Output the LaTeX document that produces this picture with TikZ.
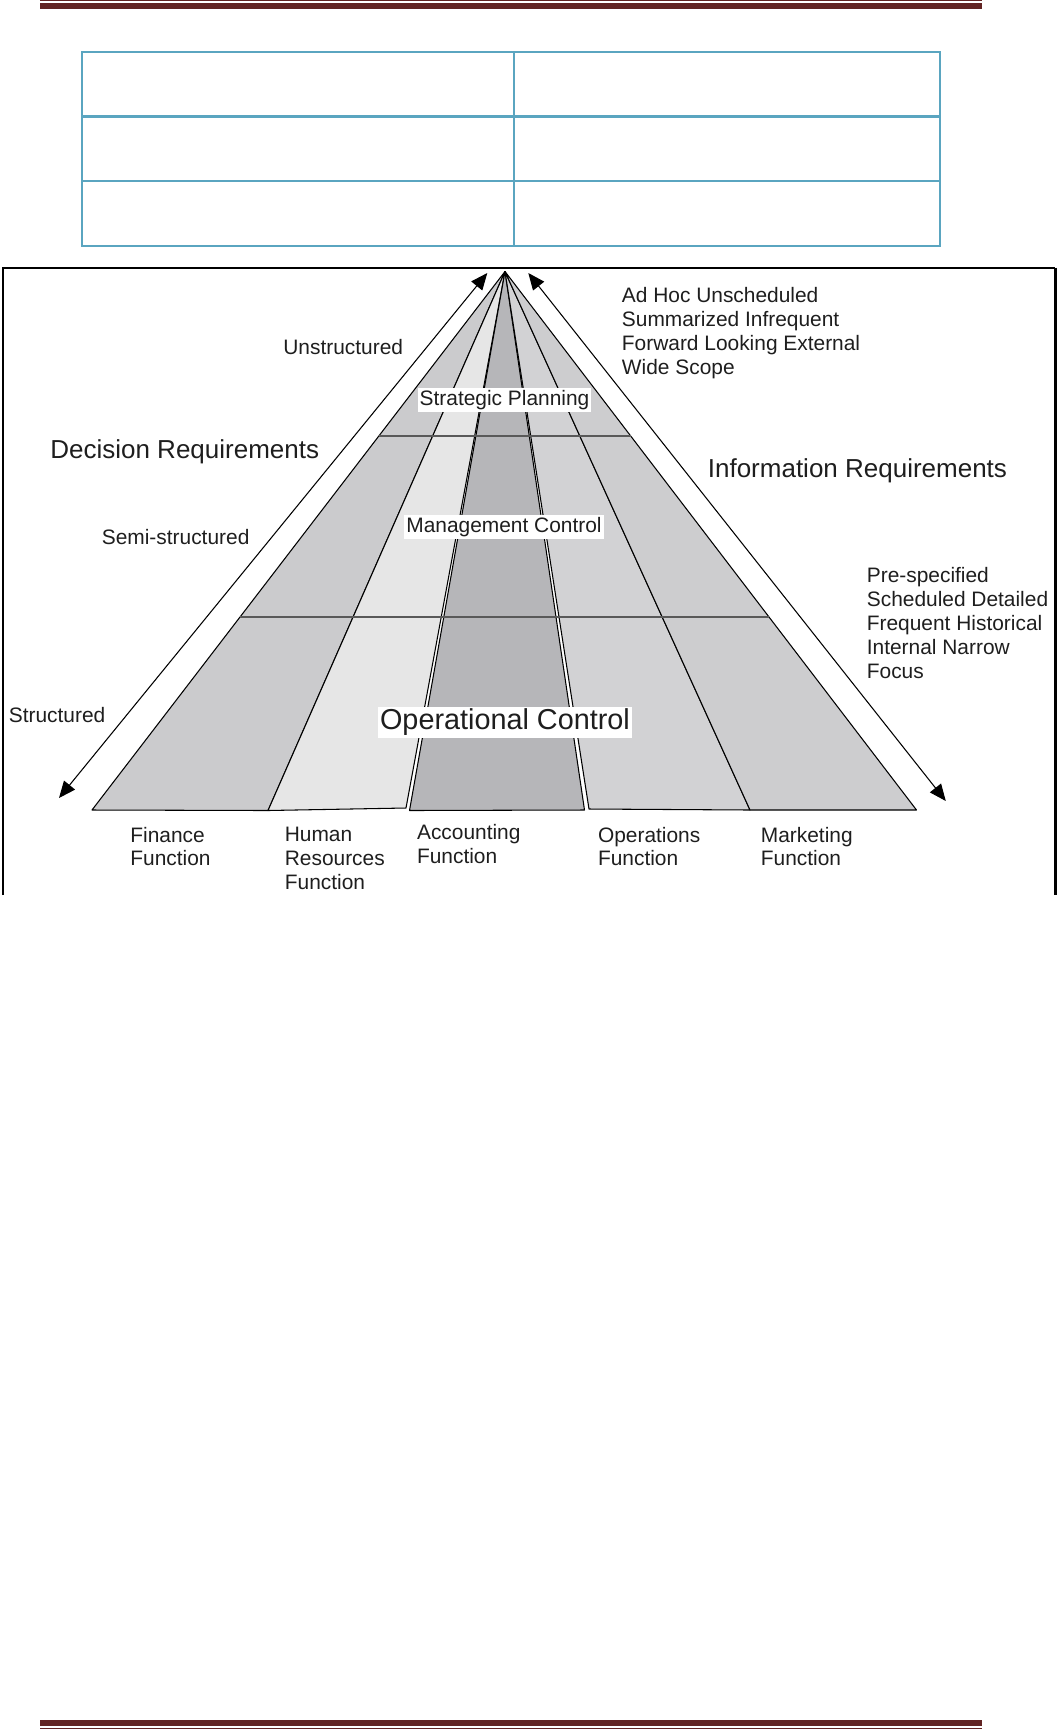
\documentclass[tikz,border=0pt]{standalone}
\usepackage{fontspec}
\setmainfont{Liberation Sans}
\usepackage{tikz}
\usepackage{xcolor}
\usetikzlibrary{calc,arrows.meta}
\definecolor{header-red}{HTML}{622423}
\definecolor{table-blue}{HTML}{5AA5C0}
\definecolor{label-ink}{HTML}{1E1E1E}
\definecolor{fin-grey}{HTML}{CBCBCD}
\definecolor{hr-grey}{HTML}{E6E6E6}
\definecolor{acc-grey}{HTML}{B6B6B9}
\definecolor{ops-grey}{HTML}{D2D2D4}
\definecolor{mkt-grey}{HTML}{CDCDCF}
\tikzset{
    column/.style = {draw=black, line width=0.6pt, line join=round},
    tier-line/.style = {draw=black!65, line width=0.8pt},
    req-arrow/.style = {draw=black, line width=0.6pt, {Triangle[length=9.5pt,width=8pt]}-{Triangle[length=9.5pt,width=8pt]}},
    small-label/.style = {text=label-ink, font=\fontsize{11.9}{13.6}\selectfont, inner sep=0pt, align=left},
    req-label/.style = {text=label-ink, font=\fontsize{14.8}{17}\selectfont, inner sep=0pt},
    tier-label/.style = {text=label-ink, fill=white, inner sep=1.2pt, font=\fontsize{11.9}{13.6}\selectfont},
    big-tier-label/.style = {tier-label, font=\fontsize{16.4}{19}\selectfont},
}

\begin{document}
\begin{tikzpicture}[x=0.02cm, y=-0.02cm]
\useasboundingbox (0,0) rectangle (1058,1729);
\fill[header-red] (40,3.3) rectangle (982,8.7);
\draw[header-red, line width=0.6pt] (40,0.6) -- (982,0.6);
\fill[header-red] (40,1720) rectangle (982,1725.7);
\draw[header-red, line width=0.6pt] (40,1728.4) -- (982,1728.4);

\draw[table-blue, line width=1.3pt] (82,52) rectangle (940,246);
\draw[table-blue, line width=1.3pt] (82,116.5) -- (940,116.5) (82,181) -- (940,181) (514,52) -- (514,246);

\draw[line width=1.2pt] (2.8,895) -- (2.8,267.7) -- (1055,267.7);
\draw[line width=1.7pt] (1055,267.7) -- (1055,895);

\coordinate (apex) at (505,271.5);
\coordinate (base-left) at (92,810);
\coordinate (base-right) at (916.5,810);
\coordinate (fin-hr) at (268,810.5);
\coordinate (hr-acc) at (406,808);
\coordinate (acc-hr) at (409.5,810.5);
\coordinate (acc-ops) at (584.5,810);
\coordinate (ops-acc) at (589,809);
\coordinate (ops-mkt) at (750,810);

\filldraw[column, fill=fin-grey] (apex) -- (base-left) -- (fin-hr) -- cycle;
\filldraw[column, fill=hr-grey] (apex) -- (fin-hr) -- (hr-acc) -- cycle;
\filldraw[column, fill=acc-grey] (apex) -- (acc-hr) -- (acc-ops) -- cycle;
\filldraw[column, fill=ops-grey] (apex) -- (ops-acc) -- (ops-mkt) -- cycle;
\filldraw[column, fill=mkt-grey] (apex) -- (ops-mkt) -- (base-right) -- cycle;

\draw[tier-line] ($(apex)!0.3055!(base-left)$) -- ($(apex)!0.3055!(base-right)$);
\draw[tier-line] ($(apex)!0.6416!(base-left)$) -- ($(apex)!0.6416!(base-right)$);

\coordinate (dec-top) at (487.3,273);
\coordinate (dec-bottom) at (59,798);
\coordinate (info-top) at (528.3,273);
\coordinate (info-bottom) at (945.8,801);
\draw[req-arrow] (dec-top) -- (dec-bottom);
\draw[req-arrow] (info-top) -- (info-bottom);

\node[tier-label] (strategic) at (504.5,400) {Strategic Planning};
\node[tier-label] (management) at (504,527) {Management Control};
\node[big-tier-label] (operational) at (505,722.5) {Operational Control};

\node[small-label, anchor=base west] (unstructured) at (283,354.5) {Unstructured};
\node[req-label, anchor=base west] (decision) at (50,458) {Decision Requirements};
\node[small-label, anchor=base west] (semi) at (101.5,544) {Semi-structured};
\node[small-label, anchor=base west] (structured) at (8.5,722.5) {Structured};

\node[small-label, anchor=north west] (adhoc) at (621.6,287) {Ad Hoc Unscheduled\\Summarized Infrequent\\Forward Looking External\\Wide Scope};
\node[req-label, anchor=base west] (information) at (707.5,477) {Information Requirements};
\node[small-label, anchor=north west] (prespec) at (866.5,567.3) {Pre-specified\\Scheduled Detailed\\Frequent Historical\\Internal Narrow\\Focus};

\node[small-label, anchor=north west] (finance) at (130,826.5) {Finance\\Function};
\node[small-label, anchor=north west] (hr) at (284.5,826.5) {Human\\Resources\\Function};
\node[small-label, anchor=north west] (accounting) at (416.7,824.3) {Accounting\\Function};
\node[small-label, anchor=north west] (operations) at (597.7,826.5) {Operations\\Function};
\node[small-label, anchor=north west] (marketing) at (760.5,826.5) {Marketing\\Function};
\end{tikzpicture}
\end{document}
